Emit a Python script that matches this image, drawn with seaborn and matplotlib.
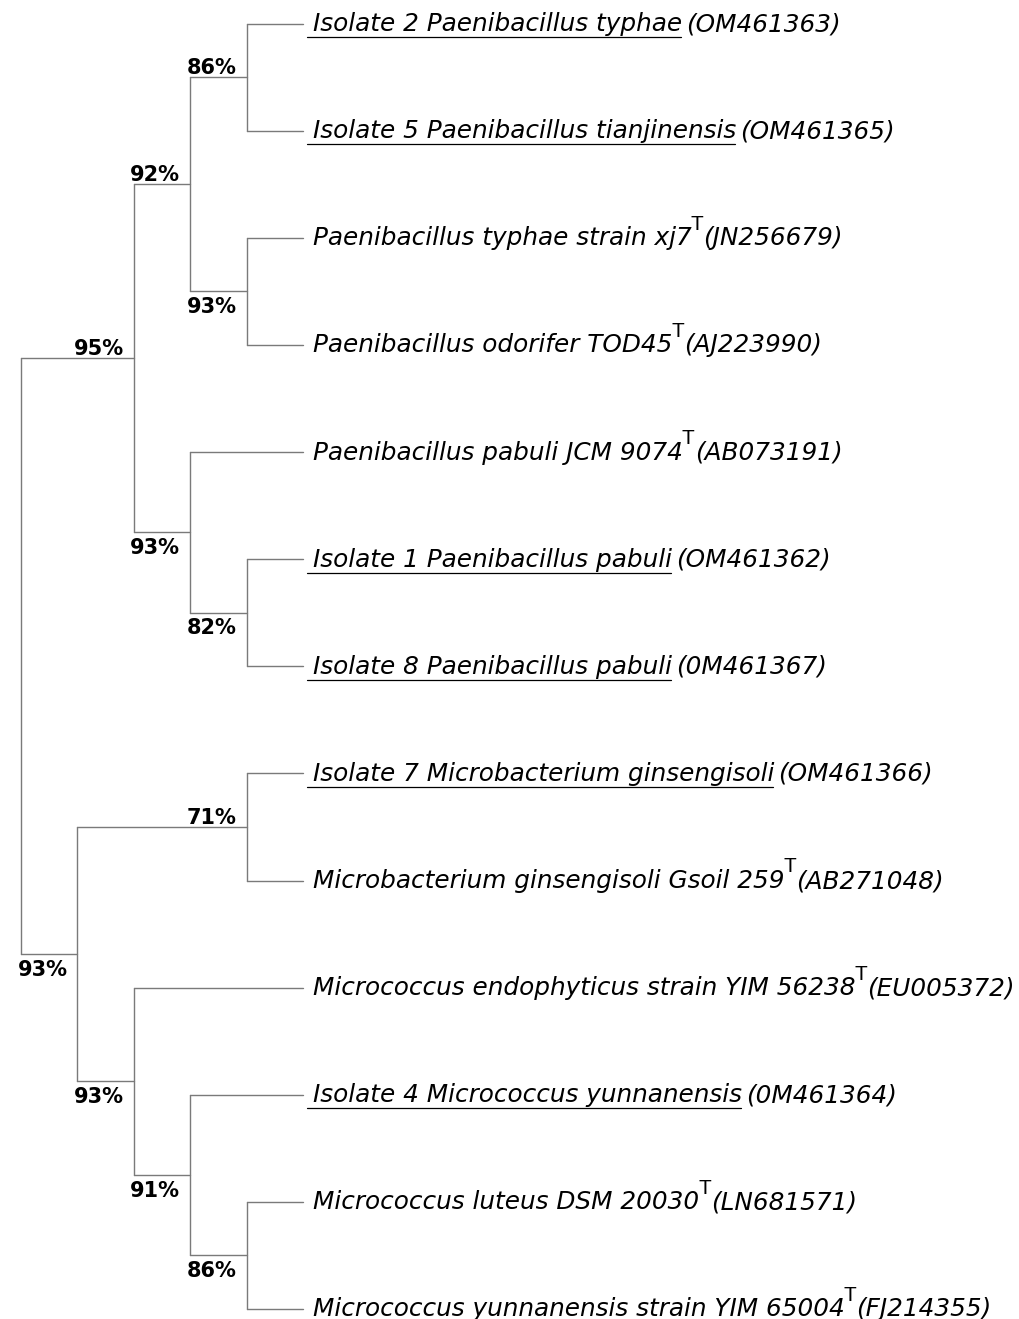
import matplotlib
matplotlib.use("Agg")
import matplotlib.pyplot as plt
import seaborn as sns
import pandas as pd

# Taxa listed top to bottom
taxa = [
    "Isolate 2 Paenibacillus typhae",
    "Isolate 5 Paenibacillus tianjinensis",
    "Paenibacillus typhae strain xj7",
    "Paenibacillus odorifer TOD45",
    "Paenibacillus pabuli JCM 9074",
    "Isolate 1 Paenibacillus pabuli",
    "Isolate 8 Paenibacillus pabuli",
    "Isolate 7 Microbacterium ginsengisoli",
    "Microbacterium ginsengisoli Gsoil 259",
    "Micrococcus endophyticus strain YIM 56238",
    "Isolate 4 Micrococcus yunnanensis",
    "Micrococcus luteus DSM 20030",
    "Micrococcus yunnanensis strain YIM 65004",
]
accessions = [
    "OM461363", "OM461365", "JN256679", "AJ223990", "AB073191", "OM461362",
    "0M461367", "OM461366", "AB271048", "EU005372", "0M461364", "LN681571",
    "FJ214355",
]
is_isolate = [True, True, False, False, False, True, True,
              True, False, False, True, False, False]

# Topology: internal node = [upper child, lower child, bootstrap %]; leaves are taxon indices
tree = [[[[0, 1, 86], [2, 3, 93], 92], [4, [5, 6, 82], 93], 95],
        [[7, 8, 71], [9, [10, [11, 12, 86], 91], 93], 93], None]


def layout(node):
    if isinstance(node, int):
        return {"y": float(node), "h": 0}
    a, b, sup = node
    la, lb = layout(a), layout(b)
    return {"y": (la["y"] + lb["y"]) / 2, "h": max(la["h"], lb["h"]) + 1,
            "kids": [la, lb], "sup": sup}


root = layout(tree)
depth = root["h"]

seg_rows = []
support = []


def collect(n, parent_x=None, side=None):
    x = depth - n["h"]
    if parent_x is not None:
        sid = len(seg_rows)
        seg_rows.append({"seg": sid, "x": parent_x, "y": n["y"]})
        seg_rows.append({"seg": sid, "x": x, "y": n["y"]})
    if "kids" in n:
        sid = len(seg_rows)
        seg_rows.append({"seg": sid, "x": x, "y": n["kids"][0]["y"]})
        seg_rows.append({"seg": sid, "x": x, "y": n["kids"][1]["y"]})
        if n["sup"] is not None:
            support.append((x, n["y"], n["sup"], side))
        for k, s in zip(n["kids"], ["upper", "lower"]):
            collect(k, x, s)


collect(root)
branches = pd.DataFrame(seg_rows)

sns.set_theme(style="white")
plt.rcParams["font.family"] = ["DejaVu Sans"]

W, H = 1020, 1319
fig = plt.figure(figsize=(W / 100, H / 100), dpi=100)
ax = fig.add_axes([0, 0, 1, 1])

sns.lineplot(data=branches, x="x", y="y", units="seg", estimator=None, sort=False,
             color="#7a7a7a", linewidth=1.0, legend=False, ax=ax)

x0_px, step_px = 21, 56.4
y0_px, row_px = 23.7, 107.1
ax.set_xlim(-x0_px / step_px, (W - x0_px) / step_px)
ax.set_ylim((H - y0_px) / row_px, -y0_px / row_px)
ax.set_axis_off()

# Bootstrap support labels
for x, y, sup, side in support:
    dy = 3 if side == "upper" else -21.5
    ax.annotate(f"{sup}%", xy=(x, y), xytext=(-10, dy), textcoords="offset pixels",
                ha="right", va="baseline", fontsize=15, fontweight="bold",
                color="black", family="DejaVu Sans")

# Leaf labels
renderer = fig.canvas.get_renderer()
name_size = 17.8
inv = ax.transData.inverted()
for i, (name, acc, iso) in enumerate(zip(taxa, accessions, is_isolate)):
    lx, ly = ax.transData.transform((depth, i))
    t = ax.annotate(name, xy=(depth, i), xytext=(10, -7.5), textcoords="offset pixels",
                    ha="left", va="baseline", fontsize=name_size, style="italic",
                    color="black")
    bb = t.get_window_extent(renderer)
    if iso:
        # underline the isolate name
        p0 = inv.transform((lx + 4, ly - 13.5))
        p1 = inv.transform((bb.x1 - 1, ly - 13.5))
        ax.plot([p0[0], p1[0]], [p0[1], p1[1]], color="black", lw=0.9)
        ax.annotate(f"({acc})", xy=(depth, i), xytext=(bb.x1 - lx + 4, -7.5),
                    textcoords="offset pixels", ha="left", va="baseline",
                    fontsize=name_size, style="italic", color="black")
    else:
        # type-strain mark
        tt = ax.annotate("T", xy=(depth, i), xytext=(bb.x1 - lx - 1, 8),
                         textcoords="offset pixels", ha="left", va="baseline",
                         fontsize=15, color="black", family="Liberation Sans")
        tb = tt.get_window_extent(renderer)
        ax.annotate(f"({acc})", xy=(depth, i), xytext=(tb.x1 - lx, -7.5),
                    textcoords="offset pixels", ha="left", va="baseline",
                    fontsize=name_size, style="italic", color="black")

fig.savefig("out.png", dpi=100)
